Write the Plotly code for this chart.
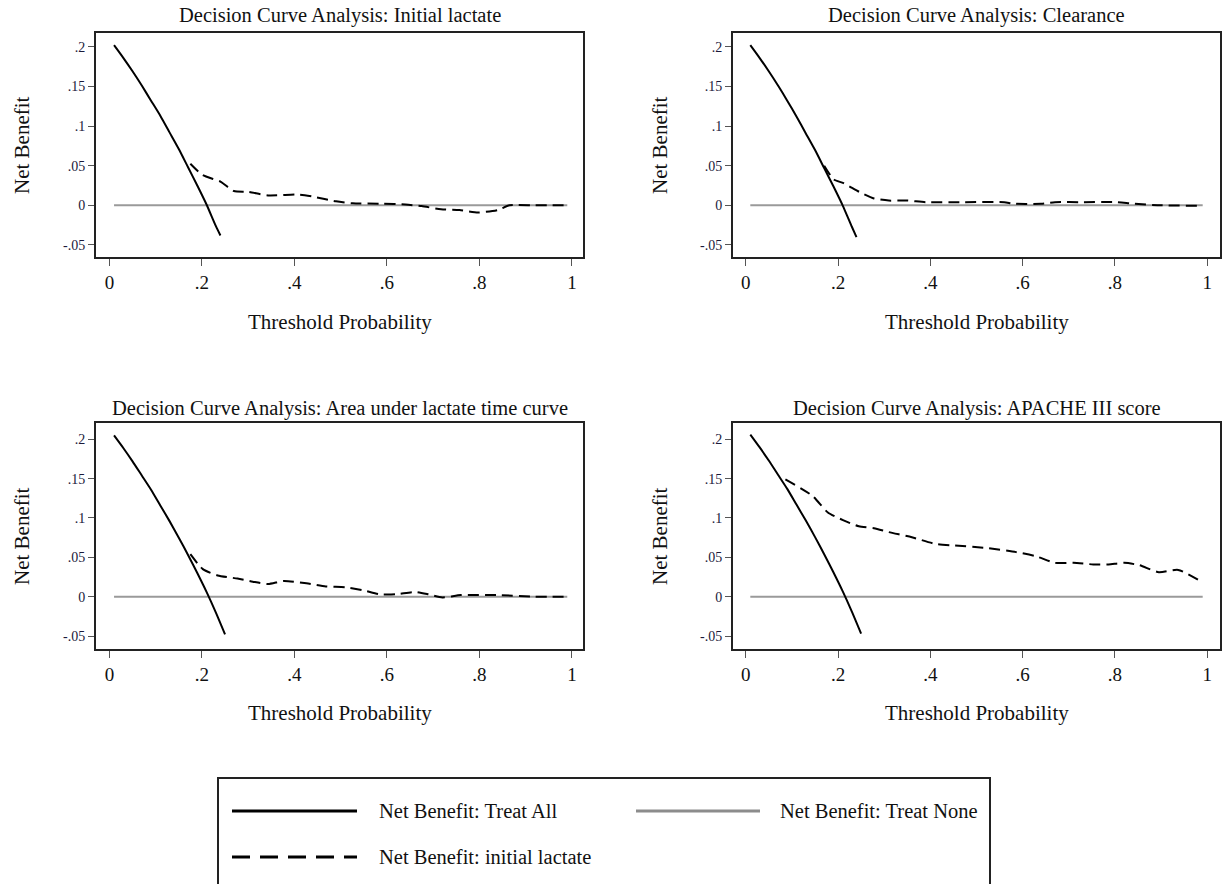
import plotly.graph_objects as go

# ---------------- data ----------------
panel_titles = [
    "Decision Curve Analysis: Initial lactate",
    "Decision Curve Analysis: Clearance",
    "Decision Curve Analysis: Area under lactate time curve",
    "Decision Curve Analysis: APACHE III score",
]

x_tick_vals = [0, 0.2, 0.4, 0.6, 0.8, 1]
x_tick_text = ["0", ".2", ".4", ".6", ".8", "1"]
y_tick_vals = [-0.05, 0, 0.05, 0.1, 0.15, 0.2]
y_tick_text = ["-.05", "0", ".05", ".1", ".15", ".2"]

# Treat All
all_x_top = [0.01, 0.03, 0.05, 0.07, 0.09, 0.11, 0.13, 0.15, 0.17, 0.19, 0.21, 0.23, 0.24]
all_y_tl = [0.202, 0.186, 0.169, 0.151, 0.132, 0.113, 0.092, 0.071, 0.048, 0.025, 0.001, -0.026, -0.038]
all_y_tr = [0.202, 0.186, 0.169, 0.151, 0.132, 0.112, 0.091, 0.070, 0.047, 0.024, 0.000, -0.027, -0.040]
all_x_bot = [0.01, 0.03, 0.05, 0.07, 0.09, 0.11, 0.13, 0.15, 0.17, 0.19, 0.21, 0.23, 0.25]
all_y_bl = [0.205, 0.189, 0.172, 0.154, 0.136, 0.116, 0.096, 0.075, 0.053, 0.030, 0.006, -0.020, -0.048]
all_y_br = [0.206, 0.190, 0.173, 0.155, 0.137, 0.117, 0.097, 0.076, 0.054, 0.031, 0.007, -0.019, -0.047]

# Treat None
none_x = [0.01, 0.99]
none_y = [0.0, 0.0]

# Model curves
tl_x = [0.175, 0.202, 0.24, 0.269, 0.30, 0.343, 0.41, 0.44, 0.49, 0.526, 0.59, 0.64, 0.675, 0.717, 0.757, 0.797, 0.84, 0.865, 0.92, 0.99]
tl_y = [0.0525, 0.038, 0.030, 0.018, 0.017, 0.0125, 0.0135, 0.011, 0.005, 0.0025, 0.002, 0.001, -0.001, -0.005, -0.006, -0.009, -0.006, 0.0, 0.0, 0.0]

tr_x = [0.17, 0.191, 0.212, 0.246, 0.278, 0.31, 0.35, 0.39, 0.47, 0.56, 0.58, 0.64, 0.67, 0.73, 0.80, 0.84, 0.90, 0.98]
tr_y = [0.050, 0.0325, 0.028, 0.017, 0.0087, 0.006, 0.006, 0.004, 0.004, 0.004, 0.002, 0.002, 0.004, 0.004, 0.004, 0.002, 0.0, -0.0005]

bl_x = [0.175, 0.202, 0.234, 0.277, 0.31, 0.343, 0.377, 0.426, 0.468, 0.51, 0.55, 0.585, 0.62, 0.66, 0.69, 0.72, 0.76, 0.84, 0.92, 0.99]
bl_y = [0.054, 0.035, 0.027, 0.023, 0.019, 0.016, 0.020, 0.017, 0.013, 0.012, 0.008, 0.003, 0.003, 0.006, 0.003, -0.001, 0.002, 0.002, 0.0, 0.0]

br_x = [0.086, 0.145, 0.178, 0.212, 0.245, 0.278, 0.31, 0.36, 0.411, 0.452, 0.52, 0.586, 0.628, 0.67, 0.71, 0.753, 0.786, 0.82, 0.853, 0.895, 0.937, 0.987]
br_y = [0.149, 0.128, 0.107, 0.097, 0.0894, 0.087, 0.082, 0.0755, 0.067, 0.065, 0.062, 0.0566, 0.0515, 0.043, 0.043, 0.041, 0.041, 0.043, 0.040, 0.031, 0.034, 0.019]

legend_labels = ["Net Benefit: Treat All", "Net Benefit: Treat None", "Net Benefit: initial lactate"]

# ---------------- figure ----------------
W, H = 1226, 884
FONT = "Liberation Serif, Times New Roman, serif"
TXT = "#111111"

panels = [
    dict(ax="", all_x=all_x_top, all_y=all_y_tl, mx=tl_x, my=tl_y),
    dict(ax="2", all_x=all_x_top, all_y=all_y_tr, mx=tr_x, my=tr_y),
    dict(ax="3", all_x=all_x_bot, all_y=all_y_bl, mx=bl_x, my=bl_y),
    dict(ax="4", all_x=all_x_bot, all_y=all_y_br, mx=br_x, my=br_y),
]

fig = go.Figure()
for p in panels:
    xa, ya = "x" + p["ax"], "y" + p["ax"]
    fig.add_trace(go.Scatter(x=none_x, y=none_y, mode="lines", xaxis=xa, yaxis=ya,
                             line=dict(color="#9a9a9a", width=2), showlegend=False,
                             name=legend_labels[1]))
    fig.add_trace(go.Scatter(x=p["all_x"], y=p["all_y"], mode="lines", xaxis=xa, yaxis=ya,
                             line=dict(color="black", width=2, shape="spline", smoothing=0.6),
                             showlegend=False, name=legend_labels[0]))
    fig.add_trace(go.Scatter(x=p["mx"], y=p["my"], mode="lines", xaxis=xa, yaxis=ya,
                             line=dict(color="black", width=2, dash="11px,6px",
                                       shape="spline", smoothing=0.6),
                             showlegend=False, name=legend_labels[2]))

def px_x(v):
    return v / W

def px_y(v):
    return 1 - v / H

xdom_left = [px_x(96), px_x(583)]
xdom_right = [px_x(733), px_x(1220)]
ydom_top = [px_y(256.7), px_y(32.7)]
ydom_bot = [px_y(649.3), px_y(422.7)]

common_x = dict(tickvals=x_tick_vals, ticktext=x_tick_text,
                showline=True, linecolor="#222222", linewidth=2, mirror=True,
                ticks="outside", ticklen=7, tickwidth=1, tickcolor="#555555",
                showgrid=False, zeroline=False,
                tickfont=dict(family=FONT, size=19, color=TXT))
common_y = dict(tickvals=y_tick_vals, ticktext=y_tick_text,
                showline=True, linecolor="#222222", linewidth=2, mirror=True,
                ticks="outside", ticklen=6, tickwidth=1, tickcolor="#555555",
                showgrid=False, zeroline=False,
                tickfont=dict(family=FONT, size=14, color="#1a1a3a"))

layout = dict(
    width=W, height=H,
    margin=dict(l=0, r=0, t=0, b=0),
    paper_bgcolor="white", plot_bgcolor="white",
    showlegend=False,
    font=dict(family=FONT, color=TXT),
    xaxis=dict(common_x, domain=xdom_left, anchor="y", range=[-0.029, 1.024]),
    yaxis=dict(common_y, domain=ydom_top, anchor="x", range=[-0.0648, 0.2177]),
    xaxis2=dict(common_x, domain=xdom_right, anchor="y2", range=[-0.0275, 1.0275]),
    yaxis2=dict(common_y, domain=ydom_top, anchor="x2", range=[-0.0648, 0.2177]),
    xaxis3=dict(common_x, domain=xdom_left, anchor="y3", range=[-0.029, 1.024]),
    yaxis3=dict(common_y, domain=ydom_bot, anchor="x3", range=[-0.0669, 0.2211]),
    xaxis4=dict(common_x, domain=xdom_right, anchor="y4", range=[-0.0275, 1.0275]),
    yaxis4=dict(common_y, domain=ydom_bot, anchor="x4", range=[-0.0669, 0.2211]),
)
fig.update_layout(**layout)

annotations = []
centers_x = [px_x(339.5), px_x(976.5), px_x(339.5), px_x(976.5)]
title_y = [px_y(15), px_y(15), px_y(408), px_y(408)]
xt_y = [px_y(322), px_y(322), px_y(713), px_y(713)]
yt_x = [px_x(22), px_x(660), px_x(22), px_x(660)]
yt_y = [px_y(145), px_y(145), px_y(536), px_y(536)]
for i in range(4):
    annotations.append(dict(text=panel_titles[i], x=centers_x[i], y=title_y[i],
                            xref="paper", yref="paper", showarrow=False,
                            xanchor="center", yanchor="middle",
                            font=dict(family=FONT, size=20.5, color=TXT)))
    annotations.append(dict(text="Threshold Probability", x=centers_x[i], y=xt_y[i],
                            xref="paper", yref="paper", showarrow=False,
                            xanchor="center", yanchor="middle",
                            font=dict(family=FONT, size=21, color=TXT)))
    annotations.append(dict(text="Net Benefit", x=yt_x[i], y=yt_y[i], textangle=-90,
                            xref="paper", yref="paper", showarrow=False,
                            xanchor="center", yanchor="middle",
                            font=dict(family=FONT, size=21, color=TXT)))

# legend (drawn as a framed key, like the original)
shapes = [
    dict(type="rect", xref="paper", yref="paper", x0=px_x(218), x1=px_x(990),
         y0=px_y(900), y1=px_y(778), line=dict(color="#222222", width=2)),
    dict(type="line", xref="paper", yref="paper", x0=px_x(232), x1=px_x(357),
         y0=px_y(811), y1=px_y(811), line=dict(color="black", width=3)),
    dict(type="line", xref="paper", yref="paper", x0=px_x(636), x1=px_x(760),
         y0=px_y(811), y1=px_y(811), line=dict(color="#8c8c8c", width=3)),
    dict(type="line", xref="paper", yref="paper", x0=px_x(232), x1=px_x(357),
         y0=px_y(857), y1=px_y(857), line=dict(color="black", width=3, dash="18px,10px")),
]
leg_pos = [(377, 811), (778, 811), (377, 857)]
for lab, (lx, ly) in zip(legend_labels, leg_pos):
    annotations.append(dict(text=lab, x=px_x(lx), y=px_y(ly), xref="paper", yref="paper",
                            showarrow=False, xanchor="left", yanchor="middle",
                            font=dict(family=FONT, size=20.5, color=TXT)))

fig.update_layout(annotations=annotations, shapes=shapes)
fig.write_html("out.html",
               config={"displayModeBar": False, "staticPlot": True},
               post_script="document.body.style.margin='0';document.body.style.overflow='hidden';")
